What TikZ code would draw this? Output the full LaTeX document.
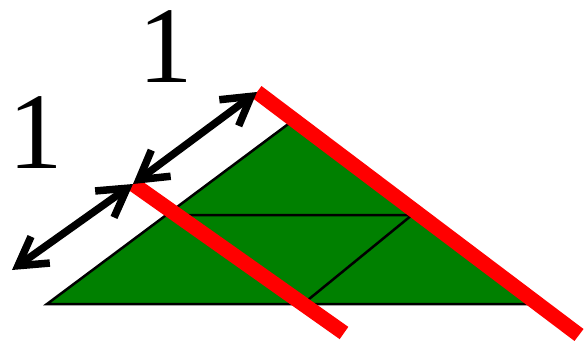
\documentclass[tikz,border=0pt]{standalone}
\usepackage{fontspec}
\setmainfont{Liberation Serif}
\usetikzlibrary{arrows.meta}
\definecolor{verde}{RGB}{0,128,0}

\begin{document}
\begin{tikzpicture}[x=0.2mm, y=-0.2mm, line width=0.5mm]
			\tikzset{rosso/.style={draw=red, line width=3mm, line cap=butt},
				freccia/.style={{Straight Barb[length=5.5mm, width=6.5mm]}-{Straight Barb[length=5.5mm, width=6.5mm]}, line width=1.5mm, line cap=round, line join=round},
				etichetta/.style={inner sep=0pt, font=\fontsize{62}{62}\selectfont}}
			\useasboundingbox (0,0) rectangle (585,341);
			
			\coordinate (A) at (47,304);
			\coordinate (B) at (291,122);
			\coordinate (C) at (532,304);
			\coordinate (M) at (168,215);
			\coordinate (N) at (412,215);
			\coordinate (D) at (303,304);
			
			\coordinate (P) at (257,92);
			\coordinate (Q) at (579,335);
			\coordinate (R) at (133,184);
			\coordinate (S) at (344,333);
			\coordinate (T) at (12,270);
			
			\filldraw[fill=verde, draw=black] (A) -- (B) -- (C) -- cycle;
			\draw (M) -- (N) -- (D);
			
			\draw[rosso] (P) -- (Q);
			\draw[rosso] (R) -- (S);
			
			% frecce di misura lungo il lato
			\draw[freccia] (P) -- (R);
			\draw[freccia] (R) -- (T);
			
			\node[etichetta] (uno) at (166,47) {1};
			\node[etichetta] (due) at (36,133) {1};
		\end{tikzpicture}
\end{document}
